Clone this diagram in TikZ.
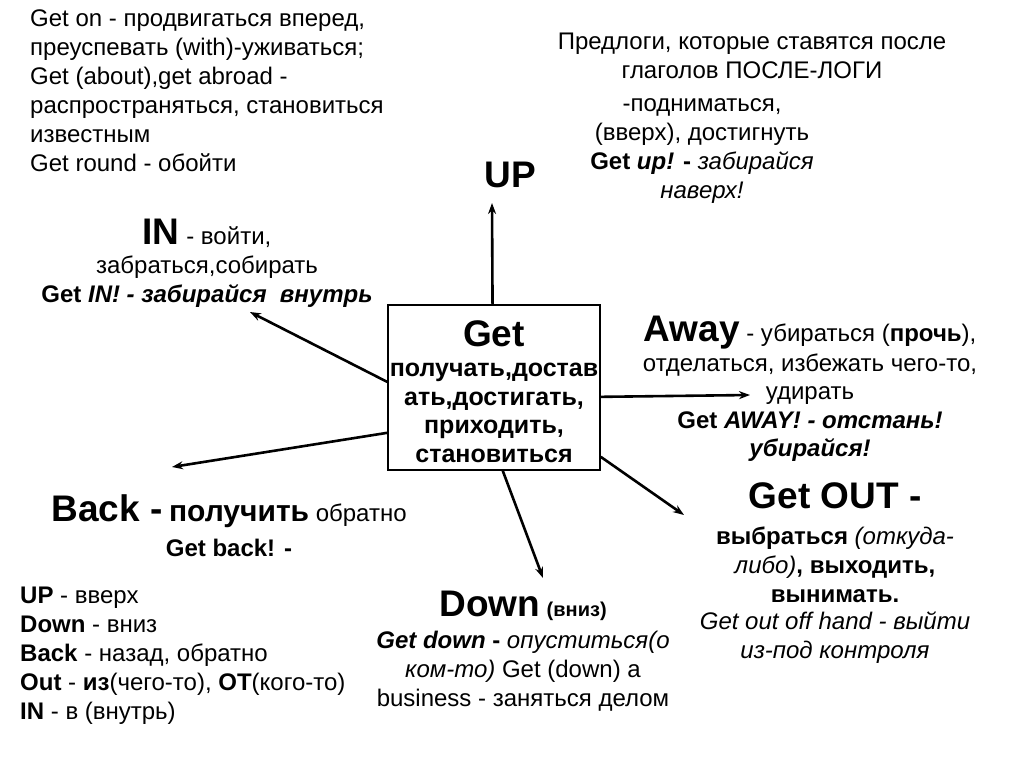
\documentclass[tikz,border=0pt]{standalone}
\usepackage{fontspec}
\setmainfont{Liberation Sans}
\usetikzlibrary{arrows.meta, positioning}

\newcommand{\bigb}[1]{{\fontsize{37}{38}\selectfont\bfseries #1}}
\newcommand{\midb}[1]{{\fontsize{30}{32}\selectfont\bfseries #1}}

\tikzset{
  txt/.style={inner sep=0pt, align=center, font=\fontsize{24}{29}\selectfont},
  txtl/.style={txt, align=left},
  getbox/.style={draw, line width=1.5pt, minimum width=212pt, minimum height=165pt, inner sep=0pt},
  gettxt/.style={inner sep=0pt, align=center, font=\fontsize{25}{28.5}\selectfont\bfseries},
  link/.style={->, line width=2.6pt}
}

\begin{document}
\begin{tikzpicture}[x=1pt, y=-1pt, >={Stealth[length=11pt, width=8pt]}]
\useasboundingbox (0,0) rectangle (1024,768);

% center
\node [getbox] (get) at (494,387.5) {};
\node [gettxt] (gettext) at (494,391.5)
  {\bigb{Get}\\[2pt]
   получать,достав\\ать,достигать,\\приходить,\\становиться};

% left and top notes
\node [txtl, anchor=north west] (about) at (30,9.5)
  {Get on - продвигаться вперед,\\
   преуспевать (with)-уживаться;\\
   Get (about),get abroad -\\
   распространяться, становиться\\
   известным\\
   Get round - обойти};
\node [txt, anchor=north] (posle) at (752,32.5)
  {Предлоги, которые ставятся после\\глаголов ПОСЛЕ-ЛОГИ};

% meanings
\node [txt, anchor=center] (up) at (510,175) {\bigb{UP}};
\node [txt, anchor=north] (upmean) at (702,98)
  {-подниматься,\\
   (вверх), достигнуть\\
   \textbf{Get \textit{up!} -} \textit{забирайся}\\
   \textit{наверх!}};
\node [txt, anchor=north] (in) at (207,219)
  {\bigb{IN} - войти,\\[0pt]
   забраться,собирать\\
   \textbf{Get \textit{IN! - забирайся\ \ внутрь}}};
\node [txt, anchor=north] (away) at (810,316)
  {\bigb{Away} - убираться (\textbf{прочь}),\\[1pt]
   отделаться, избежать чего-то,\\[-1pt]
   удирать\\[-0.5pt]
   \textbf{Get \textit{AWAY! - отстань!}}\\[-0.5pt]
   \textbf{\textit{убирайся!}}};
\node [txt, anchor=north] (back) at (229,494)
  {\bigb{Back -} \midb{получить} обратно\\[6pt]
   \textbf{Get back! -}};
\node [txt, anchor=north] (down) at (523,591)
  {\bigb{Down} {\fontsize{20}{22}\selectfont\bfseries (вниз)}\\[3pt]
   \textbf{\textit{Get down}} \textbf{-} \textit{опуститься(о}\\
   \textit{ком-то)} Get (down) а\\
   business - заняться делом};
\node [txt, anchor=north] (out) at (835,482)
  {\bigb{Get OUT -}\\[7pt]
   \textbf{выбраться} \textit{(откуда-}\\
   \textit{либо)}\textbf{, выходить,}\\
   \textbf{вынимать.}\\[-2pt]
   \textit{Get out off hand - выйти}\\
   \textit{из-под контроля}};

% legend
\node [txtl, anchor=north west] (legend) at (20,587)
  {\textbf{UP} - вверх\\
   \textbf{Down} - вниз\\
   \textbf{Back} - назад, обратно\\
   \textbf{Out} - \textbf{из}(чего-то), \textbf{ОТ}(кого-то)\\
   \textbf{IN} - в (внутрь)};

% arrow ends
\coordinate (upend) at (492,203);
\coordinate (inend) at (250,312);
\coordinate (backend) at (172,467);
\coordinate (awayend) at (750,395);
\coordinate (downend) at (543,578);
\coordinate (outend) at (684,515);

\draw [link] (get.91) -- (upend);
\draw [link] (get.177) -- (inend);
\draw [link] (get.203) -- (backend);
\draw [link] (get.-5) -- (awayend);
\draw [link] (get.-84) -- (downend);
\draw [link] (get.-33) -- (outend);
\end{tikzpicture}
\end{document}
